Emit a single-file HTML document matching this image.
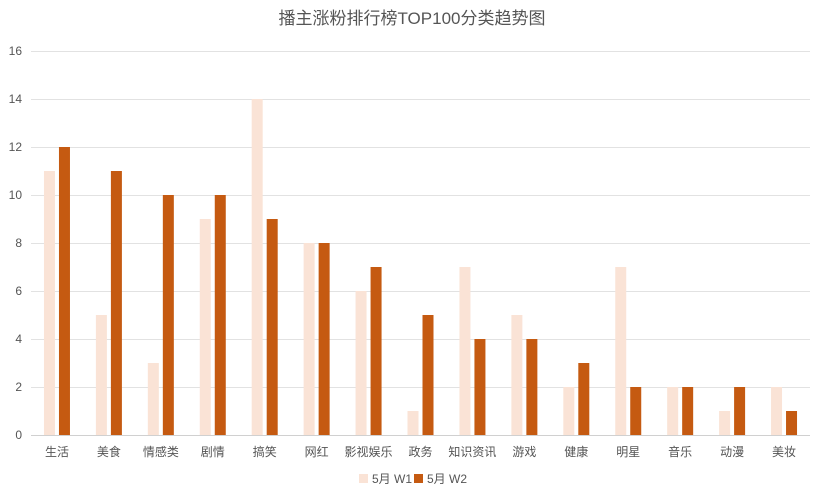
<!DOCTYPE html>
<html><head><meta charset="utf-8"><style>
body{margin:0;background:#fff;}
svg{display:block;font-family:"Liberation Sans","Noto Sans CJK SC",sans-serif;}
</style></head><body>
<svg width="825" height="500" xmlns="http://www.w3.org/2000/svg">
<text x="412" y="24" text-anchor="middle" font-size="17" fill="#555">播主涨粉排行榜TOP100分类趋势图</text>
<g id="grid" stroke="#e0e0e0" stroke-width="1"></g>
<g id="bars"></g>
<g id="lab" font-size="12" fill="#555"></g>
<g font-size="12" fill="#555">
<rect x="359" y="474" width="9" height="9" fill="#fae3d6"/><text x="372" y="483">5月 W1</text>
<rect x="414" y="474" width="9" height="9" fill="#c55a11"/><text x="427" y="483">5月 W2</text>
</g>
<script>
var ns="http://www.w3.org/2000/svg";
function el(p,t,a,txt){var e=document.createElementNS(ns,t);for(var k in a)e.setAttribute(k,a[k]);if(txt!=null)e.textContent=txt;document.getElementById(p).appendChild(e);}
for(var v=0;v<=16;v+=2){var y=435-v*24;el('grid','line',{x1:31,x2:810,y1:y+0.5,y2:y+0.5,stroke:v==0?'#d0d0d0':'#e2e2e2'});el('lab','text',{x:22,y:y+4,'text-anchor':'end'},v);}
var c=['生活','美食','情感类','剧情','搞笑','网红','影视娱乐','政务','知识资讯','游戏','健康','明星','音乐','动漫','美妆'];
var a=[11,5,3,9,14,8,6,1,7,5,2,7,2,1,2],b=[12,11,10,10,9,8,7,5,4,4,3,2,2,2,1];
var w=779/15;
for(var i=0;i<15;i++){var cx=31+w*(i+0.5);
el('bars','rect',{x:cx-13,y:435-a[i]*24,width:11,height:a[i]*24,fill:'#fae3d6'});
el('bars','rect',{x:cx+2,y:435-b[i]*24,width:11,height:b[i]*24,fill:'#c55a11'});
el('lab','text',{x:cx,y:456,'text-anchor':'middle'},c[i]);}
</script>
</svg>
</body></html>
